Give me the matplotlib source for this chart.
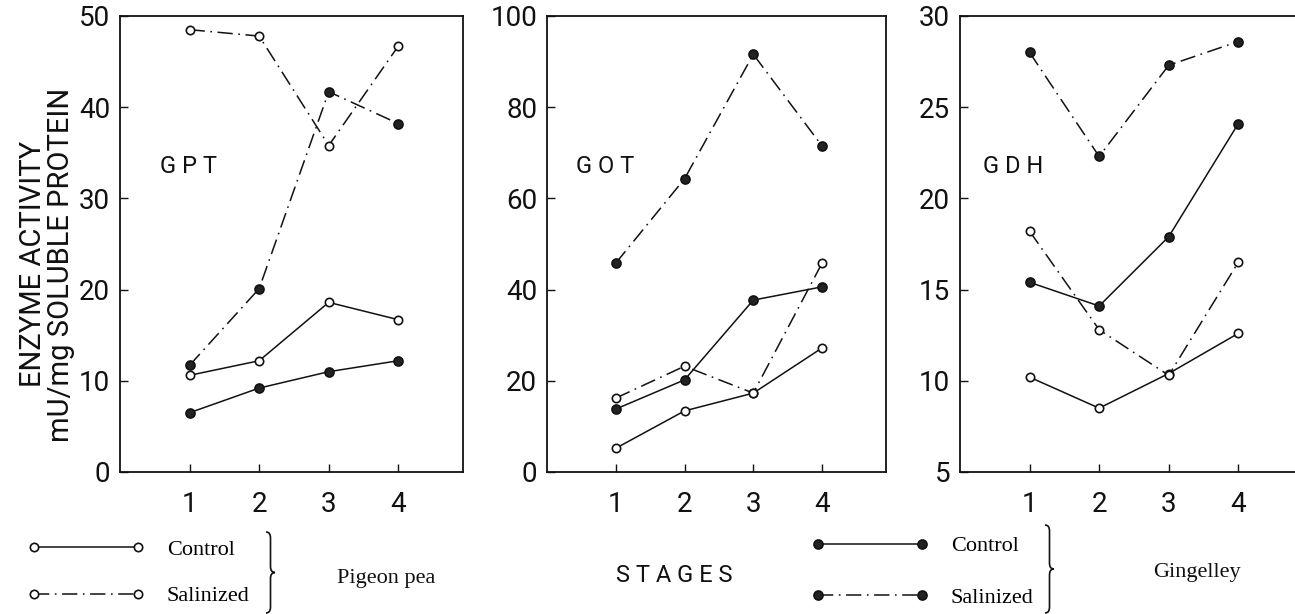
import matplotlib
matplotlib.use("Agg")
import matplotlib.pyplot as plt
from matplotlib.path import Path
from matplotlib.patches import PathPatch

# stages on the x axis
stages = [1, 2, 3, 4]

# GPT (mU/mg soluble protein)
gpt_pigeon_control = [10.6, 12.2, 18.6, 16.7]
gpt_pigeon_salinized = [48.5, 47.8, 35.8, 46.7]
gpt_ging_control = [6.5, 9.2, 11.0, 12.2]
gpt_ging_salinized = [11.7, 20.1, 41.7, 38.2]

# GOT
got_pigeon_control = [5.2, 13.4, 17.3, 27.2]
got_pigeon_salinized = [16.2, 23.2, 17.3, 45.8]
got_ging_control = [13.8, 20.2, 37.7, 40.6]
got_ging_salinized = [45.8, 64.3, 91.6, 71.5]

# GDH
gdh_pigeon_control = [10.2, 8.5, 10.4, 12.6]
gdh_pigeon_salinized = [18.2, 12.8, 10.3, 16.5]
gdh_ging_control = [15.4, 14.1, 17.9, 24.1]
gdh_ging_salinized = [28.0, 22.3, 27.3, 28.6]

panel_names = ["G P T", "G O T", "G D H"]
panel_ylims = [(0, 50), (0, 100), (5, 30)]
panel_yticks = [[0, 10, 20, 30, 40, 50], [0, 20, 40, 60, 80, 100], [5, 10, 15, 20, 25, 30]]

SANS = ["Roboto", "DejaVu Sans"]
SERIF = ["Liberation Serif", "DejaVu Serif"]

plt.rcParams["font.family"] = SANS
plt.rcParams["lines.scale_dashes"] = False

INK = "#111111"
dashdot = (0, (11, 4, 1.2, 4))

open_style = dict(marker="o", markersize=6, markerfacecolor="white",
                  markeredgecolor=INK, markeredgewidth=1.2, color=INK, linewidth=1.1)
filled_style = dict(marker="o", markersize=6.5, markerfacecolor="#222222",
                    markeredgecolor=INK, markeredgewidth=1.2, color=INK, linewidth=1.1)

W, H = 1295, 614
fig = plt.figure(figsize=(W / 100, H / 100), dpi=100)

positions = [
    [120 / W, 1 - 472 / H, 343 / W, 456 / H],
    [547 / W, 1 - 472 / H, 339 / W, 456 / H],
    [960 / W, 1 - 472 / H, 343 / W, 456 / H],
]
label_x = [0.117, 0.086, 0.067]

data = [
    (gpt_pigeon_control, gpt_pigeon_salinized, gpt_ging_control, gpt_ging_salinized),
    (got_pigeon_control, got_pigeon_salinized, got_ging_control, got_ging_salinized),
    (gdh_pigeon_control, gdh_pigeon_salinized, gdh_ging_control, gdh_ging_salinized),
]

handles = None
for i, (pc, ps, gc, gs) in enumerate(data):
    ax = fig.add_axes(positions[i])
    l_gc, = ax.plot(stages, gc, linestyle="-", **filled_style)
    l_gs, = ax.plot(stages, gs, linestyle=dashdot, **filled_style)
    l_pc, = ax.plot(stages, pc, linestyle="-", **open_style)
    l_ps, = ax.plot(stages, ps, linestyle=dashdot, **open_style)
    if handles is None:
        handles = (l_pc, l_ps, l_gc, l_gs)

    ax.set_xlim(0, 4.93)
    ax.set_ylim(*panel_ylims[i])
    ax.set_xticks(stages)
    ax.set_yticks(panel_yticks[i])
    ax.tick_params(direction="in", length=6, width=1.0, labelsize=20, colors=INK)
    ax.tick_params(axis="x", pad=14)
    ax.tick_params(axis="y", pad=7)
    for sp in ax.spines.values():
        sp.set_linewidth(1.3)
        sp.set_color(INK)
    ax.text(label_x[i], 0.67, panel_names[i], transform=ax.transAxes,
            fontsize=17, ha="left", va="center", color=INK)

# y axis title (two lines)
fig.text(33 / W, 1 - 264 / H, "ENZYME ACTIVITY",
         rotation=90, ha="center", va="center", fontsize=21, color=INK)
fig.text(61 / W, 1 - 265 / H, "mU/mg SOLUBLE PROTEIN",
         rotation=90, ha="center", va="center", fontsize=21, color=INK)

# legends
leg_kw = dict(numpoints=2, frameon=False, loc="center left", borderpad=0,
              borderaxespad=0, handlelength=5.3, handletextpad=1.0,
              prop=dict(family=SERIF, size=16))
fig.legend([handles[0], handles[1]], ["Control", "Salinized"],
           bbox_to_anchor=(27 / W, 1 - 573 / H), labelspacing=1.15, **leg_kw)
fig.legend([handles[2], handles[3]], ["Control", "Salinized"],
           bbox_to_anchor=(811 / W, 1 - 572 / H), labelspacing=1.4, **leg_kw)


def brace(x, top, bottom, w=9):
    # right-facing curly brace, given in pixel units (y measured from top)
    mid = (top + bottom) / 2
    c = x + w / 2
    r = 6
    pts = [
        (x, top), (c, top), (c, top + r),
        (c, mid - r), (c, mid), (x + w, mid),
        (c, mid), (c, mid + r),
        (c, bottom - r), (c, bottom), (x, bottom),
    ]
    codes = [Path.MOVETO, Path.CURVE3, Path.CURVE3,
             Path.LINETO, Path.CURVE3, Path.CURVE3,
             Path.CURVE3, Path.CURVE3,
             Path.LINETO, Path.CURVE3, Path.CURVE3]
    verts = [(px / W, 1 - py / H) for px, py in pts]
    fig.add_artist(PathPatch(Path(verts, codes), transform=fig.transFigure,
                             facecolor="none", edgecolor=INK, linewidth=1.2))


brace(266, 532, 613)
brace(1045, 525, 613)

fig.text(337 / W, 1 - 578 / H, "Pigeon pea", family=SERIF, fontsize=16,
         ha="left", va="center", color=INK)
fig.text(1153 / W, 1 - 573 / H, "Gingelley", family=SERIF, fontsize=16,
         ha="left", va="center", color=INK)
fig.text(674 / W, 1 - 575 / H, "S T A G E S", fontsize=17,
         ha="center", va="center", color=INK)

fig.savefig("out.png", dpi=100)
